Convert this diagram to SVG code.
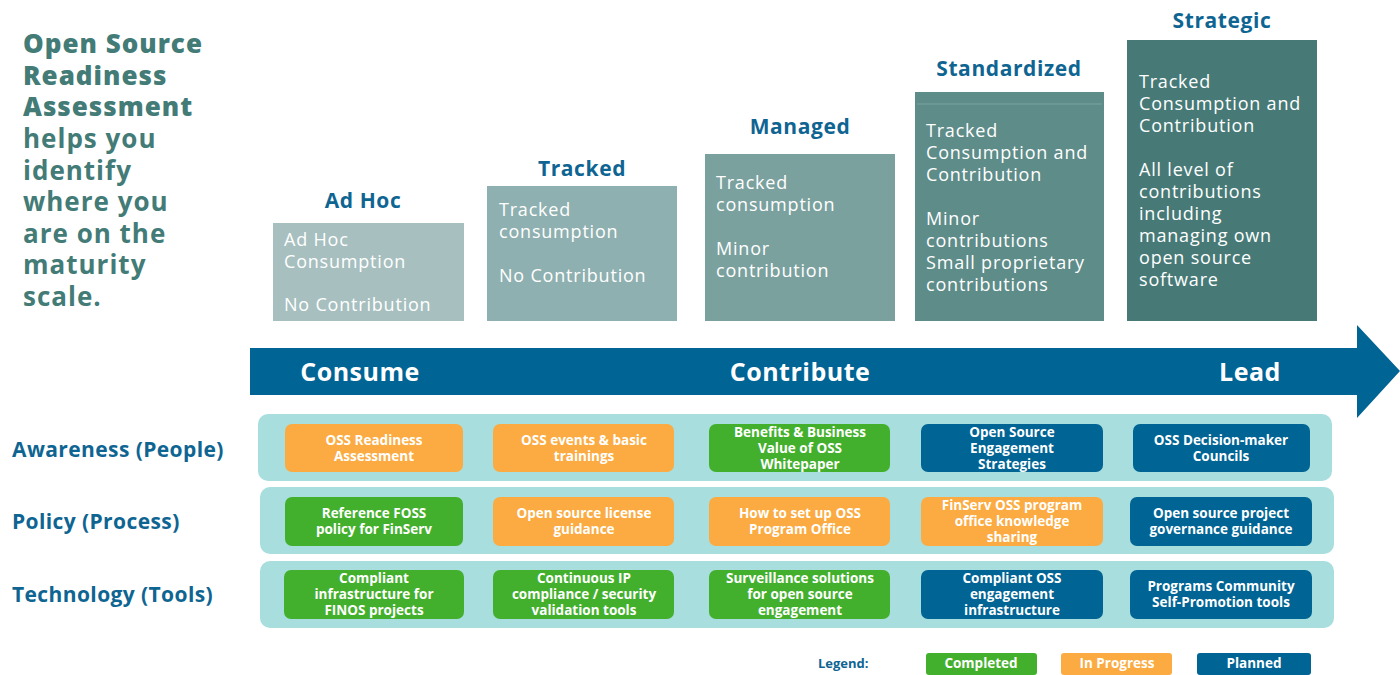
<svg xmlns="http://www.w3.org/2000/svg" width="1400" height="675" viewBox="0 0 1400 675">
<style>
text{font-family:"Open Sans","Liberation Sans",sans-serif}
.hd{fill:#437b77;font-size:26px;font-weight:800;letter-spacing:1px}
.hd2{fill:#437b77;font-size:26px;font-weight:700;letter-spacing:1px}
.st{fill:#0f6592;font-size:21px;font-weight:700;text-anchor:middle;letter-spacing:0.6px}
.bt{fill:#ffffff;font-size:18px;font-weight:400;letter-spacing:0.8px}
.ar{fill:#ffffff;font-size:25px;font-weight:700;text-anchor:middle;letter-spacing:0.5px}
.rl{fill:#0f6592;font-size:21px;font-weight:700;letter-spacing:0.4px}
.band{fill:#a8dedd}
.c{fill:#ffffff;font-size:13.5px;font-weight:700;text-anchor:middle}
.g{fill:#43b02d}.o{fill:#fbab41}.b{fill:#006494}
.lg{fill:#0f6592;font-size:13px;font-weight:700}
</style>
<g id="heading">
<text class="hd" x="23" y="53">Open Source</text>
<text class="hd" x="23" y="85">Readiness</text>
<text class="hd" x="23" y="116">Assessment</text>
<text class="hd2" x="23" y="148">helps you</text>
<text class="hd2" x="23" y="180">identify</text>
<text class="hd2" x="23" y="211">where you</text>
<text class="hd2" x="23" y="243">are on the</text>
<text class="hd2" x="23" y="274">maturity</text>
<text class="hd2" x="23" y="306">scale.</text>
</g>
<g id="step-adhoc">
<text class="st" x="363" y="208">Ad Hoc</text>
<rect x="273" y="223" width="191" height="98" fill="#a7bfbf"/>
<text class="bt" x="284" y="246">Ad Hoc</text>
<text class="bt" x="284" y="268">Consumption</text>
<text class="bt" x="284" y="311">No Contribution</text>
</g>
<g id="step-tracked">
<text class="st" x="582" y="176">Tracked</text>
<rect x="487" y="186" width="190" height="135" fill="#8fb0b0"/>
<text class="bt" x="499" y="216">Tracked</text>
<text class="bt" x="499" y="238">consumption</text>
<text class="bt" x="499" y="282">No Contribution</text>
</g>
<g id="step-managed">
<text class="st" x="800" y="134">Managed</text>
<rect x="705" y="154" width="190" height="167" fill="#7ba19f"/>
<text class="bt" x="716" y="189">Tracked</text>
<text class="bt" x="716" y="211">consumption</text>
<text class="bt" x="716" y="255">Minor</text>
<text class="bt" x="716" y="277">contribution</text>
</g>
<g id="step-standardized">
<text class="st" x="1009" y="76">Standardized</text>
<rect x="915" y="92" width="189" height="229" fill="#5e8c89"/>
<line x1="917" y1="104" x2="1102" y2="104" stroke="#7aa3a0" stroke-width="1"/>
<text class="bt" x="926" y="137">Tracked</text>
<text class="bt" x="926" y="159">Consumption and</text>
<text class="bt" x="926" y="181">Contribution</text>
<text class="bt" x="926" y="225">Minor</text>
<text class="bt" x="926" y="247">contributions</text>
<text class="bt" x="926" y="269">Small proprietary</text>
<text class="bt" x="926" y="291">contributions</text>
</g>
<g id="step-strategic">
<text class="st" x="1222" y="28">Strategic</text>
<rect x="1127" y="40" width="190" height="281" fill="#477a77"/>
<text class="bt" x="1139" y="88">Tracked</text>
<text class="bt" x="1139" y="110">Consumption and</text>
<text class="bt" x="1139" y="132">Contribution</text>
<text class="bt" x="1139" y="176">All level of</text>
<text class="bt" x="1139" y="198">contributions</text>
<text class="bt" x="1139" y="220">including</text>
<text class="bt" x="1139" y="242">managing own</text>
<text class="bt" x="1139" y="264">open source</text>
<text class="bt" x="1139" y="286">software</text>
</g>
<g id="connectors">
<path d="M250 348 H1357 V325 L1400 371 L1357 418 V395 H250 Z" fill="#006494"/>
</g>
<g id="arrow-labels">
<text class="ar" x="360" y="381">Consume</text>
<text class="ar" x="800" y="381">Contribute</text>
<text class="ar" x="1250" y="381">Lead</text>
</g>
<g id="row-labels">
<text class="rl" x="12" y="457">Awareness (People)</text>
<text class="rl" x="12" y="529">Policy (Process)</text>
<text class="rl" x="12" y="602">Technology (Tools)</text>
</g>
<g id="bands">
<rect class="band" x="258" y="414" width="1074" height="67" rx="10"/>
<rect class="band" x="260" y="487" width="1074" height="67" rx="10"/>
<rect class="band" x="260" y="561" width="1074" height="67" rx="10"/>
</g>
<g id="cell-a1"><rect class="o" x="285" y="424" width="178" height="48" rx="7"/><text class="c" x="374" y="445">OSS Readiness</text><text class="c" x="374" y="461">Assessment</text></g>
<g id="cell-a2"><rect class="o" x="493" y="424" width="181" height="48" rx="7"/><text class="c" x="584" y="445">OSS events &amp; basic</text><text class="c" x="584" y="461">trainings</text></g>
<g id="cell-a3"><rect class="g" x="709" y="424" width="181" height="48" rx="7"/><text class="c" x="800" y="437">Benefits &amp; Business</text><text class="c" x="800" y="453">Value of OSS</text><text class="c" x="800" y="469">Whitepaper</text></g>
<g id="cell-a4"><rect class="b" x="921" y="424" width="182" height="48" rx="7"/><text class="c" x="1012" y="437">Open Source</text><text class="c" x="1012" y="453">Engagement</text><text class="c" x="1012" y="469">Strategies</text></g>
<g id="cell-a5"><rect class="b" x="1133" y="424" width="177" height="48" rx="7"/><text class="c" x="1221" y="445">OSS Decision-maker</text><text class="c" x="1221" y="461">Councils</text></g>
<g id="cell-p1"><rect class="g" x="285" y="497" width="178" height="49" rx="7"/><text class="c" x="374" y="518">Reference FOSS</text><text class="c" x="374" y="534">policy for FinServ</text></g>
<g id="cell-p2"><rect class="o" x="493" y="497" width="181" height="49" rx="7"/><text class="c" x="584" y="518">Open source license</text><text class="c" x="584" y="534">guidance</text></g>
<g id="cell-p3"><rect class="o" x="709" y="497" width="181" height="49" rx="7"/><text class="c" x="800" y="518">How to set up OSS</text><text class="c" x="800" y="534">Program Office</text></g>
<g id="cell-p4"><rect class="o" x="921" y="497" width="182" height="49" rx="7"/><text class="c" x="1012" y="510">FinServ OSS program</text><text class="c" x="1012" y="526">office knowledge</text><text class="c" x="1012" y="542">sharing</text></g>
<g id="cell-p5"><rect class="b" x="1130" y="497" width="182" height="49" rx="7"/><text class="c" x="1221" y="518">Open source project</text><text class="c" x="1221" y="534">governance guidance</text></g>
<g id="cell-t1"><rect class="g" x="284" y="570" width="180" height="49" rx="7"/><text class="c" x="374" y="583">Compliant</text><text class="c" x="374" y="599">infrastructure for</text><text class="c" x="374" y="615">FINOS projects</text></g>
<g id="cell-t2"><rect class="g" x="493" y="570" width="181" height="49" rx="7"/><text class="c" x="584" y="583">Continuous IP</text><text class="c" x="584" y="599">compliance / security</text><text class="c" x="584" y="615">validation tools</text></g>
<g id="cell-t3"><rect class="g" x="709" y="570" width="181" height="49" rx="7"/><text class="c" x="800" y="583">Surveillance solutions</text><text class="c" x="800" y="599">for open source</text><text class="c" x="800" y="615">engagement</text></g>
<g id="cell-t4"><rect class="b" x="921" y="570" width="182" height="49" rx="7"/><text class="c" x="1012" y="583">Compliant OSS</text><text class="c" x="1012" y="599">engagement</text><text class="c" x="1012" y="615">infrastructure</text></g>
<g id="cell-t5"><rect class="b" x="1130" y="570" width="182" height="49" rx="7"/><text class="c" x="1221" y="591">Programs Community</text><text class="c" x="1221" y="607">Self-Promotion tools</text></g>
<g id="legend">
<text class="lg" x="818" y="668">Legend:</text>
<rect class="g" x="926" y="653" width="111" height="22" rx="3"/><text class="c" x="981" y="668">Completed</text>
<rect class="o" x="1061" y="653" width="111" height="22" rx="3"/><text class="c" x="1117" y="668">In Progress</text>
<rect class="b" x="1197" y="653" width="114" height="22" rx="3"/><text class="c" x="1254" y="668">Planned</text>
</g>
</svg>
